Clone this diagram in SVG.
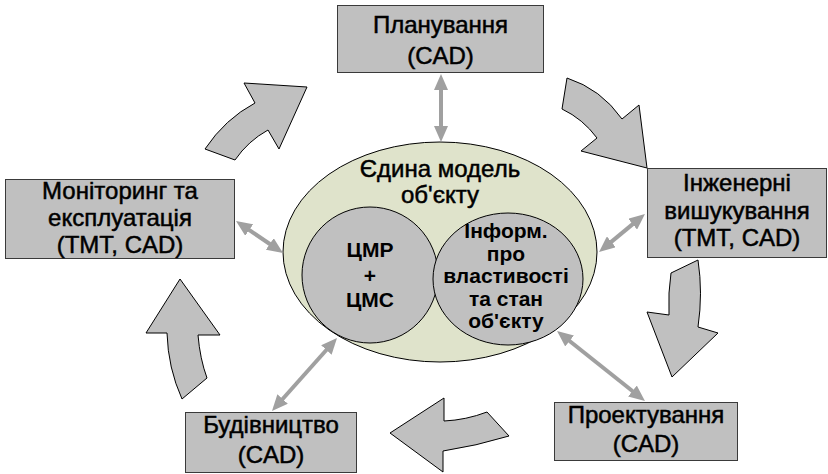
<svg xmlns="http://www.w3.org/2000/svg" width="828" height="474" viewBox="0 0 828 474">
<defs>
<style>
.box{fill:#c0c0c0;stroke:#3a3a3a;stroke-width:1}
.blk{fill:#c0c0c0;stroke:#000;stroke-width:1;stroke-linejoin:miter}
.t{font-family:"Liberation Sans",Arial,sans-serif;font-size:24px;fill:#000;stroke:#000;stroke-width:0.5;text-anchor:middle}
.s{font-family:"Liberation Sans",Arial,sans-serif;font-size:21px;font-weight:bold;fill:#000;text-anchor:middle}
.dbl{stroke:#a0a0a0;stroke-width:4;fill:none;marker-start:url(#ah);marker-end:url(#ah)}
</style>
<marker id="ah" markerUnits="userSpaceOnUse" markerWidth="16" markerHeight="14" viewBox="0 0 16 14" refX="8" refY="7" orient="auto-start-reverse">
<path d="M0,0 L16,7 L0,14 z" fill="#a0a0a0"/>
</marker>
</defs>
<rect width="828" height="474" fill="#fff"/>

<g id="cycle-arrows">
<path class="blk" d="M205,149 Q225,119 255,103 L244,83 L307,87 L279,149 L268,130 Q248,141 235,160 Z"/>
<path class="blk" d="M567,78 Q601,89 622,119 L639,105 L647,168 L581,151 L597,138 Q583,119 562,109 Z"/>
<path class="blk" d="M698,260 Q703,293 698,327 L718,333 L672,377 L647,312 L669,315 Q668,292 671,273 Z"/>
<path class="blk" d="M487,412 L509,436 Q476,446 443,451 L443,472 L390,433 L444,398 L444,421 Q466,420 487,412 Z"/>
<path class="blk" d="M182,399 Q168,368 167,333 L146,333 L180,279 L220,335 L198,335 Q200,359 207,378 Z"/>
</g>

<g id="model">
<ellipse cx="440" cy="252" rx="157" ry="110" fill="#dfe3cb" stroke="#000" stroke-width="1"/>
<text class="t" x="440" y="177">Єдина модель</text>
<text class="t" x="440" y="203">об'єкту</text>
</g>
<g id="dem">
<ellipse cx="370" cy="275" rx="68" ry="68" fill="#c0c0c0" stroke="#000" stroke-width="1"/>
<text class="s" x="370" y="257">ЦМР</text>
<text class="s" x="370" y="283">+</text>
<text class="s" x="370" y="307">ЦМС</text>
</g>
<g id="info">
<ellipse cx="508" cy="279" rx="75" ry="66" fill="#c0c0c0" stroke="#000" stroke-width="1"/>
<text class="s" x="506" y="238">Інформ.</text>
<text class="s" x="506" y="261">про</text>
<text class="s" x="506" y="283">властивості</text>
<text class="s" x="506" y="306">та стан</text>
<text class="s" x="506" y="328">об'єкту</text>
</g>

<g id="planning">
<rect class="box" x="337.5" y="5.5" width="206" height="67"/>
<text class="t" x="440.5" y="33">Планування</text>
<text class="t" x="440.5" y="64">(CAD)</text>
</g>
<g id="survey">
<rect class="box" x="647.5" y="168.5" width="179" height="89"/>
<text class="t" x="737" y="191">Інженерні</text>
<text class="t" x="737" y="219">вишукування</text>
<text class="t" x="737" y="246">(ТМТ, CAD)</text>
</g>
<g id="design">
<rect class="box" x="554.5" y="402.5" width="183" height="58"/>
<text class="t" x="646" y="423">Проектування</text>
<text class="t" x="646" y="452">(CAD)</text>
</g>
<g id="construction">
<rect class="box" x="185.5" y="412.5" width="171" height="60"/>
<text class="t" x="271" y="433">Будівництво</text>
<text class="t" x="271" y="463">(CAD)</text>
</g>
<g id="monitoring">
<rect class="box" x="5.5" y="179.5" width="229" height="79"/>
<text class="t" x="120" y="199">Моніторинг та</text>
<text class="t" x="120" y="226">експлуатація</text>
<text class="t" x="120" y="253">(ТМТ, CAD)</text>
</g>

<g id="connectors">
<line class="dbl" x1="441" y1="82" x2="441" y2="134"/>
<line class="dbl" x1="242.6" y1="225.5" x2="276.4" y2="248.5"/>
<line class="dbl" x1="605.2" y1="246.9" x2="638.8" y2="219.1"/>
<line class="dbl" x1="563.3" y1="336" x2="638.7" y2="396"/>
<line class="dbl" x1="331.7" y1="344" x2="277.3" y2="405"/>
</g>
</svg>
